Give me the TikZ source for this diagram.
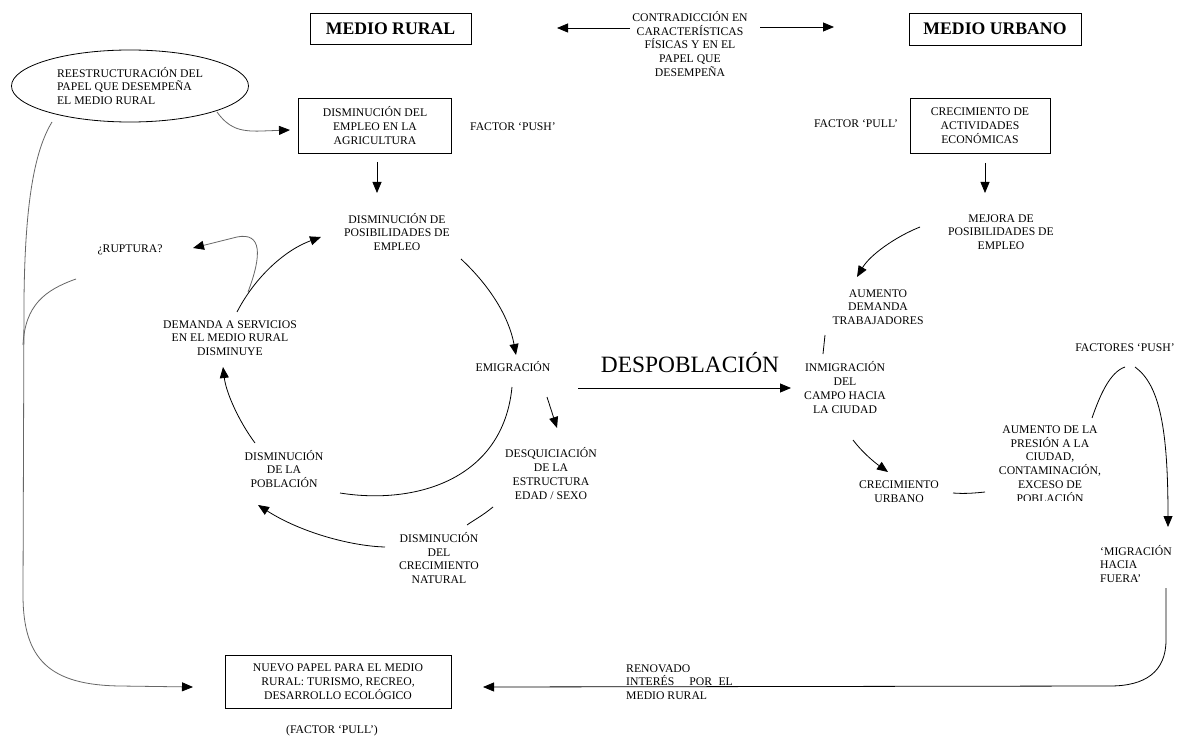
\documentclass[tikz,border=0pt]{standalone}
\usepackage{fontspec}
\setmainfont{Liberation Serif}
\usetikzlibrary{arrows.meta,shapes.geometric}
\begin{document}
\begin{tikzpicture}[x=1pt,y=-1pt,
  txt/.style={font=\fontsize{11.7}{13.7}\selectfont, align=center, inner sep=0pt},
  boxed/.style={txt, draw, line width=0.8pt},
  head/.style={font=\fontsize{17.7}{20}\selectfont\bfseries, draw, line width=0.8pt, inner sep=0pt},
  con/.style={line width=0.8pt},
  arr/.style={con, -{Triangle[length=11pt,width=9pt]}},
  garr/.style={con, draw=black!60, -{Triangle[length=11pt,width=9pt,color=black]}},
  gcon/.style={con, draw=black!60},
]
\fill[white] (0,0) rectangle (1180,738);
\useasboundingbox (0,0) rectangle (1180,738);

% ---- headings
\node[head, minimum width=161, minimum height=31] (rural) at (390.5,28.5) {MEDIO RURAL};
\node[head, minimum width=172, minimum height=32] (urbano) at (995,29) {MEDIO URBANO};
\node[txt] (contra) at (690,44) {CONTRADICCIÓN EN\\CARACTERÍSTICAS\\FÍSICAS Y EN EL\\PAPEL QUE\\DESEMPEÑA};
\coordinate (ca1) at (630,28); \coordinate (ca2) at (557,28);
\coordinate (cb1) at (760,27); \coordinate (cb2) at (834,27);
\draw[arr] (ca1) -- (ca2);
\draw[arr] (cb1) -- (cb2);

% ---- top boxes
\node[txt, ellipse, draw, line width=0.8pt, minimum width=237, minimum height=72, align=left] (reest) at (130,86) {REESTRUCTURACIÓN DEL\\PAPEL QUE DESEMPEÑA\\EL MEDIO RURAL};
\node[boxed, minimum width=152.5, minimum height=55] (empleo) at (375,125.5) {DISMINUCIÓN DEL\\EMPLEO EN LA\\AGRICULTURA};
\node[txt] (push) at (513,127) {FACTOR ‘PUSH’};
\node[boxed, minimum width=140, minimum height=55] (activ) at (980,125.5) {CRECIMIENTO DE\\ACTIVIDADES\\ECONÓMICAS};
\node[txt] (pull) at (856,124) {FACTOR ‘PULL’};

% ---- texts
\node[txt] (posib) at (397,232) {DISMINUCIÓN DE\\POSIBILIDADES DE\\EMPLEO};
\node[txt] (mejora) at (1001,232) {MEJORA DE\\POSIBILIDADES DE\\EMPLEO};
\node[txt] (ruptura) at (130,250) {¿RUPTURA?};
\node[txt] (demanda) at (230,338) {DEMANDA A SERVICIOS\\EN EL MEDIO RURAL\\DISMINUYE};
\node[txt] (emig) at (513,367) {EMIGRACIÓN};
\node[font=\fontsize{23.4}{26}\selectfont, inner sep=0pt] (despo) at (690,363) {DESPOBLACIÓN};
\node[txt] (aumd) at (878,307) {AUMENTO\\DEMANDA\\TRABAJADORES};
\node[txt] (inmig) at (845,387.5) {INMIGRACIÓN\\DEL\\CAMPO HACIA\\LA CIUDAD};
\node[txt] (pobl) at (284,469) {DISMINUCIÓN\\DE LA\\POBLACIÓN};
\node[txt] (desq) at (551,473.5) {DESQUICIACIÓN\\DE LA\\ESTRUCTURA\\EDAD / SEXO};
\node[txt] (natural) at (439,558) {DISMINUCIÓN\\DEL\\CRECIMIENTO\\NATURAL};
\begin{scope}
\clip (840,470) rectangle (960,503);
\node[txt] (urb) at (899,491.5) {CRECIMIENTO\\URBANO};
\end{scope}
\begin{scope}
\clip (985,415) rectangle (1120,500);
\node[txt] (presion) at (1050,464) {AUMENTO DE LA\\PRESIÓN A LA\\CIUDAD,\\CONTAMINACIÓN,\\EXCESO DE\\POBLACIÓN};
\end{scope}
\node[txt] (fpush) at (1125,348) {FACTORES ‘PUSH’};
\node[txt, align=left, anchor=west] (migr) at (1100,564) {‘MIGRACIÓN\\HACIA\\FUERA’};
\node[txt, align=left, anchor=west] (renov) at (626,682) {RENOVADO\\INTERÉS\hspace{15pt}POR\hspace{6.5pt}EL\\MEDIO RURAL};
\node[boxed, minimum width=226, minimum height=53] (nuevo) at (338,681.5) {NUEVO PAPEL PARA EL MEDIO\\RURAL: TURISMO, RECREO,\\DESARROLLO ECOLÓGICO};
\node[txt] (fpull) at (332,731) {(FACTOR ‘PULL’)};

% ---- coordinates for connector ends
\coordinate (e1) at (217,112); \coordinate (e2) at (290,130);
\coordinate (d1) at (377,162); \coordinate (d2) at (377,193);
\coordinate (d3) at (985,163); \coordinate (d4) at (985,193);
\coordinate (p1) at (461,259); \coordinate (p2) at (516,355);
\coordinate (m1) at (512,387); \coordinate (m2) at (340,493);
\coordinate (q1) at (255,443); \coordinate (q2) at (223,367);
\coordinate (r1) at (237,312); \coordinate (r2) at (321,237);
\coordinate (u1) at (248,292); \coordinate (u2) at (237,237); \coordinate (u3) at (193,248);
\coordinate (s1) at (547,397); \coordinate (s2) at (557,428);
\coordinate (t1) at (493,507); \coordinate (t2) at (467,525);
\coordinate (n1) at (385,547); \coordinate (n2) at (258,505);
\coordinate (h1) at (578,388); \coordinate (h2) at (791,388);
\coordinate (j1) at (920,227); \coordinate (j2) at (857,277);
\coordinate (k1) at (825,335); \coordinate (k2) at (823,354);
\coordinate (g1) at (853,440); \coordinate (g2) at (888,472);
\coordinate (w1) at (953,493); \coordinate (w2) at (985,492);
\coordinate (f1) at (1092,418); \coordinate (f2) at (1125,367);
\coordinate (f3) at (1135,367); \coordinate (f4) at (1168,527);
\coordinate (b1) at (1166,588); \coordinate (b2) at (1166,640); \coordinate (b3) at (1110,686); \coordinate (b4) at (483,687);
\coordinate (l1) at (52,122); \coordinate (l2) at (24,300); \coordinate (l3) at (23,595); \coordinate (l4) at (120,686); \coordinate (l5) at (193,687);
\coordinate (v1) at (76,279); \coordinate (v2) at (23,345);

% ---- connectors
\draw[garr] (e1) .. controls (228,127) and (238,132) .. (262,131) -- (e2);
\draw[arr] (d1) -- (d2);
\draw[arr] (d3) -- (d4);
\draw[arr] (p1) .. controls (490,286) and (509,317) .. (p2);
\draw[con] (m1) .. controls (503,480) and (415,505) .. (m2);
\draw[arr] (q1) .. controls (238,420) and (226,392) .. (q2);
\draw[arr] (r1) .. controls (255,277) and (285,250) .. (r2);
\draw[garr] (u1) .. controls (262,255) and (262,232) .. (u2) -- (u3);
\draw[arr] (s1) -- (s2);
\draw[con] (t1) .. controls (482,516) and (474,520) .. (t2);
\draw[arr] (n1) .. controls (350,546) and (300,532) .. (n2);
\draw[arr] (h1) -- (h2);
\draw[arr] (j1) .. controls (895,237) and (870,255) .. (j2);
\draw[con] (k1) -- (k2);
\draw[arr] (g1) .. controls (862,452) and (874,462) .. (g2);
\draw[con] (w1) .. controls (965,494) and (975,493) .. (w2);
\draw[con] (f1) .. controls (1100,395) and (1110,372) .. (f2);
\draw[arr] (f3) .. controls (1160,385) and (1168,430) .. (f4);
\draw[arr] (b1) -- (b2) .. controls (1166,672) and (1145,686) .. (b3) -- (b4);
\draw[garr] (l1) .. controls (35,150) and (25,200) .. (l2) -- (l3) .. controls (23,660) and (50,685) .. (l4) -- (l5);
\draw[gcon] (v1) .. controls (45,290) and (25,305) .. (v2);
\end{tikzpicture}
\end{document}
